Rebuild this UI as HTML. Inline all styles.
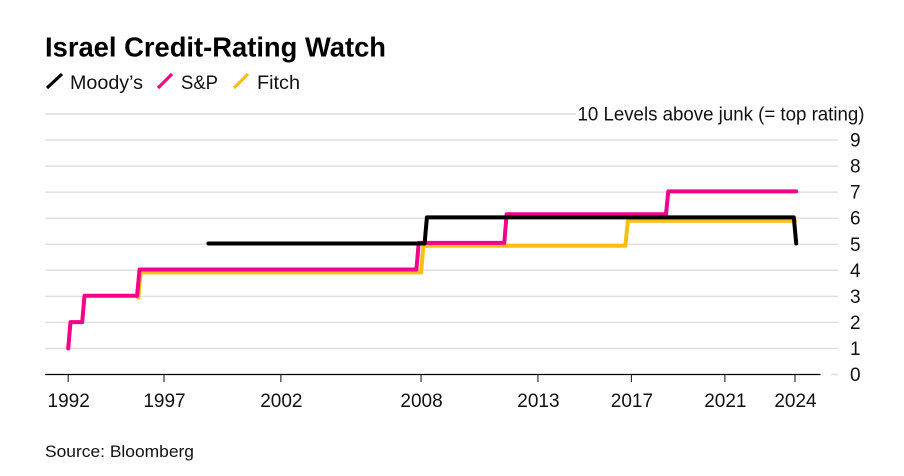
<!DOCTYPE html>
<html lang="en">
<head>
<meta charset="utf-8">
<title>Israel Credit-Rating Watch</title>
<style>
html,body{margin:0;padding:0;background:#fff;}
svg{display:block;font-family:"Liberation Sans",Arial,sans-serif;}
text{fill:#111;}
</style>
</head>
<body>
<svg id="chart" width="904" height="476" viewBox="0 0 904 476" xmlns="http://www.w3.org/2000/svg">
  <rect width="904" height="476" fill="#fff"/>
  <text x="45" y="56.5" font-size="28" font-weight="700" textLength="341" lengthAdjust="spacingAndGlyphs" style="fill:#000">Israel Credit-Rating Watch</text>
  <g>
    <line x1="47" y1="88" x2="62" y2="74" stroke="#000" stroke-width="3.2"/>
    <text x="70" y="89" font-size="19" textLength="73" lengthAdjust="spacingAndGlyphs">Moody’s</text>
    <line x1="158" y1="88" x2="172" y2="74" stroke="#f5008b" stroke-width="3.2"/>
    <text x="181" y="89" font-size="19" textLength="37" lengthAdjust="spacingAndGlyphs">S&amp;P</text>
    <line x1="234" y1="88" x2="248" y2="74" stroke="#ffbe14" stroke-width="3.2"/>
    <text x="257" y="89" font-size="19" textLength="43" lengthAdjust="spacingAndGlyphs">Fitch</text>
  </g>
  <g id="grid"></g>
  <g id="yticks"></g>
  <g id="series"></g>
  <g id="xaxis"></g>
  <text x="45" y="457" font-size="17" textLength="149" lengthAdjust="spacingAndGlyphs">Source: Bloomberg</text>
</svg>
<script>
var yTicks = [0, 1, 2, 3, 4, 5, 6, 7, 8, 9, 10];
var yLabels = ['0', '1', '2', '3', '4', '5', '6', '7', '8', '9', '10 Levels above junk (= top rating)'];
var xTicks = [1992.9, 1997, 2002, 2008, 2013, 2017, 2021, 2024];
var xLabels = ['1992', '1997', '2002', '2008', '2013', '2017', '2021', '2024'];

var fitchDates = [1995.9, 1996.0, 2008.0, 2008.1, 2016.74, 2016.85, 2024.0];
var fitchValues = [2.95, 3.92, 3.92, 4.94, 4.94, 5.9, 5.9];

var spDates = [1992.9, 1993.0, 1993.5, 1993.6, 1995.85, 1995.95, 2007.8, 2007.9, 2011.56, 2011.66, 2018.48, 2018.58, 2024.05];
var spValues = [1.0, 2.01, 2.01, 3.02, 3.02, 4.03, 4.03, 5.05, 5.05, 6.15, 6.15, 7.03, 7.03];

var moodysDates = [1998.9, 2008.15, 2008.25, 2023.95, 2024.05];
var moodysValues = [5.03, 5.03, 6.03, 6.03, 5.03];

var SVG_NS = 'http://www.w3.org/2000/svg';
function xScale(t) { return 164 + (t - 1997) * 23.37; }
function yScale(v) { return 374.5 - v * 26.05; }
function make(tag, parentId, attrs) {
  var el = document.createElementNS(SVG_NS, tag);
  for (var k in attrs) { el.setAttribute(k, attrs[k]); }
  document.getElementById(parentId).appendChild(el);
  return el;
}

yTicks.forEach(function (v, i) {
  var isTop = v === yTicks[yTicks.length - 1];
  var y = yScale(v);
  var x1 = v === 0 ? 831 : 45;
  var x2 = isTop ? 576 : 838;
  var line = make('line', 'grid', { x1: x1, x2: x2, y1: y, y2: y, stroke: '#e0e0e0', 'stroke-width': isTop ? 1.8 : 1.5 });
  
  
  var label = make('text', 'yticks', { x: isTop ? 864.5 : 850, y: y + 6.5, 'font-size': 19, 'text-anchor': isTop ? 'end' : 'start' });
  if (isTop) { label.setAttribute('textLength', '287'); label.setAttribute('lengthAdjust', 'spacingAndGlyphs'); }
  label.textContent = yLabels[i];
  
  
});

function drawSeries(dates, values, color, width, name) {
  var pts = dates.map(function (d, i) {
    return xScale(d).toFixed(1) + ',' + yScale(values[i]).toFixed(1);
  }).join(' ');
  var line = make('polyline', 'series', { points: pts, fill: 'none', stroke: color, 'stroke-width': width, 'stroke-linejoin': 'round', 'stroke-linecap': 'round' });
  
  
}
drawSeries(fitchDates, fitchValues, '#ffbe14', 4, 'fitch-line');
drawSeries(spDates, spValues, '#f5008b', 4, 'sp-line');
drawSeries(moodysDates, moodysValues, '#000000', 4, 'moodys-line');

var axis = make('line', 'xaxis', { x1: 45, x2: 820.5, y1: 374.5, y2: 374.5, stroke: '#000', 'stroke-width': 1.3 });


xTicks.forEach(function (t, i) {
  var x = xScale(t);
  var tick = make('line', 'xaxis', { x1: x, x2: x, y1: 374.5, y2: 382, stroke: '#333', 'stroke-width': 1.2 });
  
  
  var label = make('text', 'xaxis', { x: x + 0.5, y: 407, 'font-size': 19, 'text-anchor': 'middle' });
  label.textContent = xLabels[i];
  
  
});
</script>
</body>
</html>
